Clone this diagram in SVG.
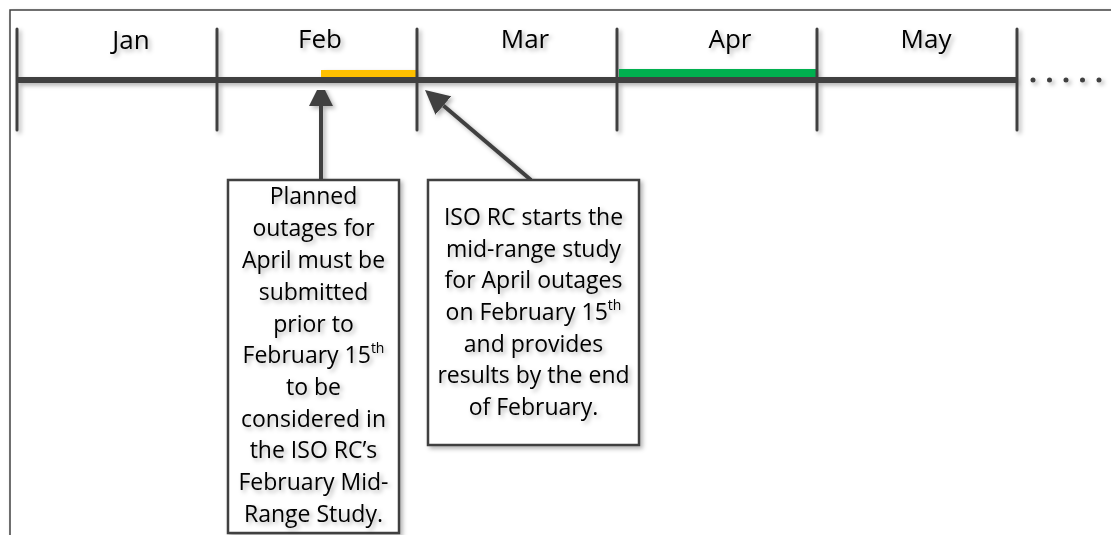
<svg xmlns="http://www.w3.org/2000/svg" width="1111" height="535" viewBox="0 0 1111 535">
  <style>
    .ln { stroke: #404040; fill: none; }
    .tick { stroke: #404040; stroke-width: 3; stroke-linecap: round; }
    .month { font-family: "Open Sans", "Liberation Sans", sans-serif; font-size: 26px; fill: #000; text-anchor: middle; }
    .note { font-family: "Open Sans", "Liberation Sans", sans-serif; font-size: 23px; fill: #000; text-anchor: middle; }
    .box { fill: #fff; stroke: #404040; stroke-width: 2.5; }
    .arr { stroke: #404040; stroke-width: 4; fill: none; }
  </style>
  <defs>
    <filter id="sh" x="-20%" y="-20%" width="150%" height="150%">
      <feDropShadow dx="2.5" dy="2.5" stdDeviation="2" flood-color="#000" flood-opacity="0.3"/>
    </filter>
    <marker id="ah" viewBox="0 0 24 24" refX="0" refY="12" markerWidth="24" markerHeight="24" markerUnits="userSpaceOnUse" orient="auto">
      <path d="M0,0 L24,12 L0,24 z" fill="#404040"/>
    </marker>
  </defs>
  <rect width="1111" height="535" fill="#fff"/>
  <rect x="10" y="10" width="1120" height="540" fill="#fff" stroke="#404040" stroke-width="1.5" filter="url(#sh)"/>

  <g id="timeline" filter="url(#sh)">
    <rect x="321" y="70" width="95" height="7" fill="#FFC000"/>
    <rect x="619" y="69" width="197" height="8" fill="#00B050"/>
    <line class="ln" x1="17" y1="80" x2="1017" y2="80" stroke-width="6"/>
    <line class="tick" x1="17" y1="29" x2="17" y2="130"/>
    <line class="tick" x1="217" y1="29" x2="217" y2="130"/>
    <line class="tick" x1="417" y1="29" x2="417" y2="130"/>
    <line class="tick" x1="617" y1="29" x2="617" y2="130"/>
    <line class="tick" x1="817" y1="29" x2="817" y2="130"/>
    <line class="tick" x1="1017" y1="29" x2="1017" y2="130"/>
    <line x1="1033" y1="80" x2="1100" y2="80" stroke="#404040" stroke-width="5" stroke-linecap="round" stroke-dasharray="0 16.5"/>
  </g>
  <g id="months" filter="url(#sh)">
    <text class="month" x="131" y="49">Jan</text>
    <text class="month" x="320" y="48">Feb</text>
    <text class="month" x="525" y="48">Mar</text>
    <text class="month" x="730" y="48">Apr</text>
    <text class="month" x="926" y="48">May</text>
  </g>

  <g id="connectors" filter="url(#sh)">
    <line class="arr" x1="321" y1="180" x2="321" y2="106" marker-end="url(#ah)"/>
    <line class="arr" x1="531" y1="180" x2="443.3" y2="105.5" marker-end="url(#ah)"/>
  </g>

  <g id="note1">
    <rect class="box" x="228" y="180" width="171" height="353" filter="url(#sh)"/>
    <g filter="url(#sh)">
      <text class="note" x="313.5" y="204">Planned</text>
      <text class="note" x="313.5" y="236">outages for</text>
      <text class="note" x="313.5" y="268">April must be</text>
      <text class="note" x="313.5" y="300">submitted</text>
      <text class="note" x="313.5" y="332">prior to</text>
      <text class="note" x="313.5" y="363">February 15<tspan font-size="14" dy="-10">th</tspan></text>
      <text class="note" x="313.5" y="395">to be</text>
      <text class="note" x="313.5" y="427">considered in</text>
      <text class="note" x="313.5" y="458">the ISO RC’s</text>
      <text class="note" x="313.5" y="490">February Mid-</text>
      <text class="note" x="313.5" y="522">Range Study.</text>
    </g>
  </g>

  <g id="note2">
    <rect class="box" x="428" y="180" width="211" height="265" filter="url(#sh)"/>
    <g filter="url(#sh)">
      <text class="note" x="533.5" y="225">ISO RC starts the</text>
      <text class="note" x="533.5" y="257">mid-range study</text>
      <text class="note" x="533.5" y="288">for April outages</text>
      <text class="note" x="533.5" y="320">on February 15<tspan font-size="14" dy="-10">th</tspan></text>
      <text class="note" x="533.5" y="352">and provides</text>
      <text class="note" x="533.5" y="383">results by the end</text>
      <text class="note" x="533.5" y="415">of February.</text>
    </g>
  </g>
</svg>
